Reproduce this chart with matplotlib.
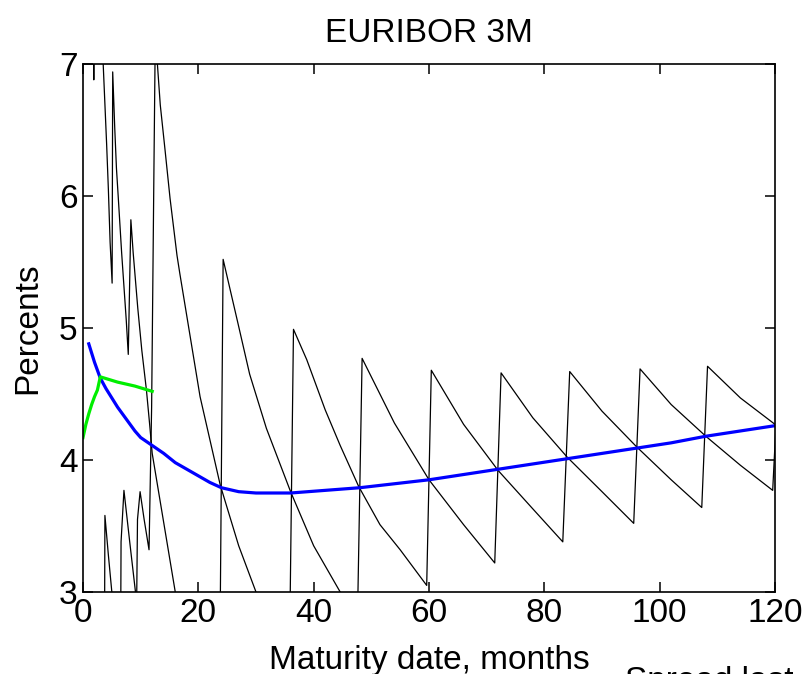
import matplotlib
matplotlib.use('Agg')
import matplotlib.pyplot as plt

plt.rcParams['font.family'] = ['Liberation Sans', 'DejaVu Sans']

# first set of forward-rate sawtooth (months, percents)
fwd_a_months = [1.80, 1.87, 1.93, 3.00, 3.50, 4.10, 4.40, 4.70, 5.05, 5.15, 5.50, 5.80,
                6.10, 6.70, 7.50, 7.85, 8.30, 8.70, 9.50, 10.20, 11.00, 11.60, 12.00,
                16.00, 20.00, 23.60, 24.30, 26.90, 28.90, 31.80, 36.00, 40.00, 44.60,
                47.60, 48.40, 54.00, 60.00, 66.00, 71.40, 72.50, 78.00, 84.00, 90.00,
                95.50, 96.60, 102.00, 108.00, 114.00, 119.60, 120.40]
fwd_a_rates = [8.00, 6.88, 8.60, 7.50, 7.00, 6.39, 6.05, 5.65, 5.34, 6.94, 6.52, 6.21,
               6.00, 5.57, 5.06, 4.80, 5.82, 5.57, 5.15, 4.83, 4.53, 4.25, 4.05,
               3.00, 2.20, 1.80, 5.52, 5.03, 4.65, 4.24, 3.76, 3.35, 3.00,
               2.80, 4.77, 4.28, 3.85, 3.51, 3.22, 4.66, 4.32, 4.02, 3.76,
               3.52, 4.69, 4.42, 4.18, 3.96, 3.77, 4.47]

# second set, offset by a year
fwd_b_months = [0.00, 3.70, 3.80, 4.40, 5.00, 6.50, 6.60, 7.10, 8.10, 9.10, 9.30, 9.45,
                9.90, 10.60, 11.45, 11.90, 12.30, 12.60, 12.90, 13.40, 14.20, 15.10,
                16.30, 16.80, 20.30, 23.80, 27.00, 30.00, 33.00, 35.80, 36.50, 38.80,
                42.00, 44.60, 47.80, 51.50, 55.00, 59.60, 60.40, 66.00, 72.00, 78.00,
                83.20, 84.40, 90.00, 96.00, 102.00, 107.30, 108.30, 114.00, 120.00]
fwd_b_rates = [2.00, 2.20, 3.58, 3.28, 3.00, 2.40, 3.38, 3.77, 3.38, 3.00, 2.90, 3.55,
               3.76, 3.55, 3.32, 4.40, 6.20, 7.50, 7.00, 6.69, 6.36, 5.98,
               5.55, 5.41, 4.48, 3.81, 3.35, 3.00, 2.70, 2.50, 4.99, 4.76,
               4.38, 4.11, 3.80, 3.51, 3.32, 3.05, 4.68, 4.27, 3.92, 3.63,
               3.38, 4.67, 4.37, 4.10, 3.85, 3.64, 4.71, 4.47, 4.27]

# fitted curve
curve_months = [1, 2, 3, 4, 5, 6, 7, 8, 9, 10, 12, 14, 16, 18, 20, 22, 24, 27, 30,
                36, 42, 48, 54, 60, 66, 72, 78, 84, 90, 96, 102, 108, 114, 120]
curve_rates = [4.88, 4.74, 4.62, 4.54, 4.47, 4.40, 4.34, 4.28, 4.22, 4.17, 4.11, 4.05,
               3.98, 3.93, 3.88, 3.83, 3.79, 3.76, 3.75, 3.75, 3.77, 3.79, 3.82, 3.85,
               3.89, 3.93, 3.97, 4.01, 4.05, 4.09, 4.13, 4.18, 4.22, 4.26]

# market quotes (first year)
quote_months = [0, 0.5, 1, 1.5, 2, 2.5, 3, 6, 9, 12]
quote_rates = [4.17, 4.27, 4.35, 4.42, 4.48, 4.53, 4.63, 4.59, 4.56, 4.52]

x_ticks = [0, 20, 40, 60, 80, 100, 120]
y_ticks = [3, 4, 5, 6, 7]

fig = plt.figure(figsize=(8.06, 6.74), dpi=100)
ax = fig.add_axes([83/806, 1 - 592/674, 692/806, 528/674])

ax.plot(fwd_a_months, fwd_a_rates, color='black', lw=0.9)
ax.plot(fwd_b_months, fwd_b_rates, color='black', lw=0.9)
ax.plot(curve_months, curve_rates, color='#0000ff', lw=2.3)
ax.plot(quote_months, quote_rates, color='#00ee00', lw=2.3)

ax.set_xlim(0, 120)
ax.set_ylim(3, 7)
ax.set_xticks(x_ticks)
ax.set_yticks(y_ticks)
ax.tick_params(direction='in', length=7, width=1.1, top=True, right=True,
               labelsize=24, pad=4)
for s in ax.spines.values():
    s.set_linewidth(1.2)

ax.set_title('EURIBOR 3M', fontsize=24, pad=16)
ax.set_xlabel('Maturity date, months', fontsize=24, labelpad=12)
ax.set_ylabel('Percents', fontsize=24, labelpad=11)

# caption cut off at the bottom edge, as in the original
fig.text(625/806, 1 - 666/674, 'Spread last', fontsize=24, va='top')

fig.savefig('out.png', dpi=100)
